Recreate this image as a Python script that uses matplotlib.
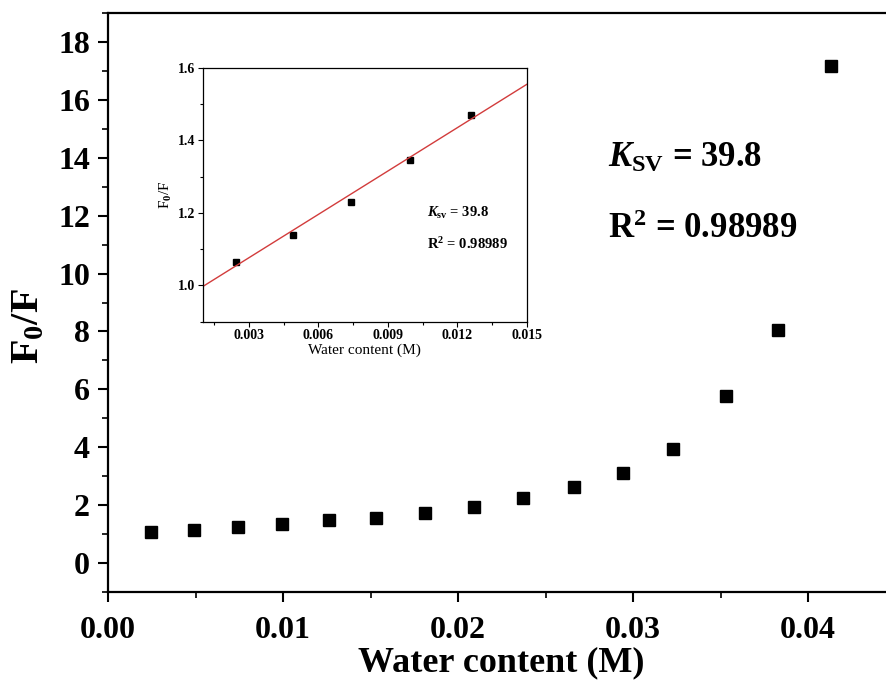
import matplotlib.pyplot as plt
import numpy as np
from matplotlib.ticker import MultipleLocator

plt.rcParams['font.family'] = ['Liberation Serif', 'DejaVu Serif']
plt.rcParams['mathtext.fontset'] = 'custom'
plt.rcParams['mathtext.rm'] = 'Liberation Serif:bold'
plt.rcParams['mathtext.bf'] = 'Liberation Serif:bold'
plt.rcParams['mathtext.it'] = 'Liberation Serif:italic:bold'

# main data: water content (M) vs F0/F
water = [0.00245, 0.0049, 0.0074, 0.00995, 0.0126, 0.0153, 0.0181, 0.0209,
         0.0237, 0.0266, 0.0294, 0.0323, 0.0353, 0.0383, 0.0413]
f0_f = [1.065, 1.14, 1.23, 1.345, 1.47, 1.55, 1.72, 1.93,
        2.25, 2.61, 3.10, 3.94, 5.78, 8.04, 17.17]

# inset: linear region
n_lin = 5
ksv = 39.8
intercept = 0.957
r2 = 0.98989
fit_x = [0.001, 0.015]

fig = plt.figure(figsize=(8.86, 6.85), dpi=100)
ax = fig.add_axes([108 / 886, 1 - 592 / 685, 787.5 / 886, 579 / 685])

ax.plot(water, f0_f, 's', color='black', markersize=8.5)
ax.set_xlim(0, 0.045)
ax.set_ylim(-1, 19)
ax.xaxis.set_major_locator(MultipleLocator(0.01))
ax.xaxis.set_minor_locator(MultipleLocator(0.005))
ax.yaxis.set_major_locator(MultipleLocator(2))
ax.yaxis.set_minor_locator(MultipleLocator(1))
ax.xaxis.set_major_formatter(plt.FormatStrFormatter('%.2f'))
ax.tick_params(which='major', direction='out', length=7, width=1.5,
               labelsize=23, pad=6)
ax.tick_params(axis='x', which='major', pad=10)
ax.tick_params(which='minor', direction='out', length=4, width=1.2)
for lab in ax.get_xticklabels() + ax.get_yticklabels():
    lab.set_fontweight('bold')
for s in ax.spines.values():
    s.set_linewidth(1.6)

ax.set_xlabel('Water content (M)', fontsize=26, fontweight='bold', labelpad=1)
ax.set_ylabel('F$_0$/F', fontsize=29, fontweight='bold')
ax.yaxis.set_label_coords(-0.077, 0.46)

ax.text(0.02857, 13.68, r'$K_{\mathrm{SV}}$ = 39.8', fontsize=25,
        fontweight='bold', va='baseline')
ax.text(0.02857, 11.23, 'R$^2$ = %.5f' % r2, fontsize=25,
        fontweight='bold', va='baseline')

# inset
ins = fig.add_axes([202.7 / 886, 1 - 321.7 / 685, 324 / 886, 254 / 685])
ins.plot(water[:n_lin], f0_f[:n_lin], 's', color='black', markersize=4.5)
fx = np.array(fit_x)
ins.plot(fx, intercept + ksv * fx, '-', color='#d23c3c', linewidth=1)
ins.set_xlim(0.001, 0.015)
ins.set_ylim(0.9, 1.6)
ins.xaxis.set_major_locator(MultipleLocator(0.003))
ins.xaxis.set_minor_locator(MultipleLocator(0.0015))
ins.yaxis.set_major_locator(MultipleLocator(0.2))
ins.yaxis.set_minor_locator(MultipleLocator(0.1))
ins.xaxis.set_major_formatter(plt.FormatStrFormatter('%.3f'))
ins.yaxis.set_major_formatter(plt.FormatStrFormatter('%.1f'))
ins.tick_params(which='major', direction='out', length=3.5, width=0.8,
                labelsize=10, pad=2)
ins.tick_params(which='minor', direction='out', length=2, width=0.8)
for lab in ins.get_xticklabels() + ins.get_yticklabels():
    lab.set_fontweight('bold')
for s in ins.spines.values():
    s.set_linewidth(0.9)
ins.set_xlabel('Water content (M)', fontsize=11, labelpad=1)
ins.set_ylabel('F$_0$/F', fontsize=11, labelpad=3)
ins.text(0.01069, 1.189, r'$K_{\mathrm{sv}}$ = 39.8', fontsize=10.5,
         fontweight='bold', va='baseline')
ins.text(0.01069, 1.10, 'R$^2$ = %.5f' % r2, fontsize=10.5,
         fontweight='bold', va='baseline')

fig.savefig('out.png', dpi=100)
